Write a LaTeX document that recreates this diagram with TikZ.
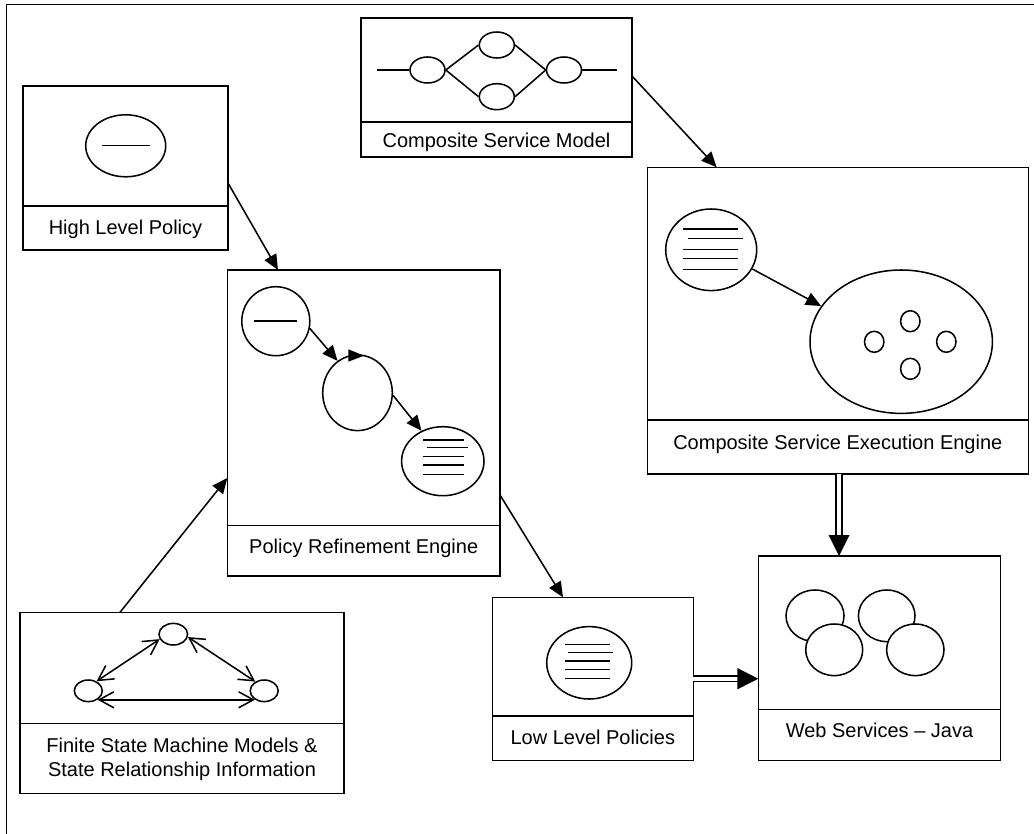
\documentclass[tikz,border=0pt]{standalone}
\usepackage{fontspec}
\setmainfont{Liberation Sans}
\usetikzlibrary{arrows.meta,shapes.geometric,fit}
\begin{document}
\begin{tikzpicture}[x=0.75pt,y=-0.75pt,line width=1.15pt,
  box/.style={draw,inner sep=0pt,outer sep=0pt},
  lab/.style={anchor=base,inner sep=0pt,align=center,font=\fontsize{15}{17.5}\selectfont},
  ell/.style 2 args={ellipse,draw,inner sep=0pt,minimum width=#1*1.5pt,minimum height=#2*1.5pt},
  arr/.style={-{Triangle[length=11.5pt,width=10pt]}},
  barb/.style={{Straight Barb[length=11pt,width=12pt]}-{Straight Barb[length=11pt,width=12pt]}},
  dbl/.style={double,double distance=3pt,shorten >=15pt}]
\useasboundingbox (0,0) rectangle (1034,834);
% outer frame
\draw[line width=1.4pt] (6.5,850) -- (6.5,4.5) -- (1050,4.5);

% ---------- Composite Service Model ----------
\node[box,fit={(361,18) (632,157)}] (csm) {};
\draw (csm.west |- 0,122) -- (csm.east |- 0,122);
\node[lab] (csmL) at (496.5,147.5) {Composite Service Model};
\node[ell={17.5}{13}] (cl) at (427.5,70) {};
\node[ell={17.5}{13}] (ct) at (496.8,45) {};
\node[ell={17.5}{13}] (cb) at (496.8,96.7) {};
\node[ell={17.5}{13}] (cr) at (564,70) {};
\coordinate (cin) at (377,70);
\coordinate (cout) at (616.7,70);
\draw (cin) -- (cl.west);
\draw (cl.east) -- (ct.west);
\draw (cl.east) -- (cb.west);
\draw (ct.east) -- (cr.west);
\draw (cb.east) -- (cr.west);
\draw (cr.east) -- (cout);

% ---------- High Level Policy ----------
\node[box,fit={(23,86) (228,250)}] (hlp) {};
\draw (hlp.west |- 0,206) -- (hlp.east |- 0,206);
\node[lab] (hlpL) at (125.5,234) {High Level Policy};
\node[ell={40}{31}] (h1) at (125.7,145.8) {};
\draw (101.7,145.7) -- (150,145.7);

% ---------- Policy Refinement Engine ----------
\node[box,fit={(227.3,270) (500,576)}] (pre) {};
\draw (pre.west |- 0,525.7) -- (pre.east |- 0,525.7);
\node[lab] (preL) at (363.7,553.6) {Policy Refinement Engine};
\node[ell={34}{34.5}] (p1) at (275.8,321.2) {};
\draw (254.3,321) -- (296.7,321);
\node[ell={34.8}{37.8}] (p2) at (357.5,392.8) {};
\node[ell={41.2}{34.5}] (p3) at (442.8,461.2) {};
\foreach \yy/\xa/\xb in {440/423.3/464.3,447.7/426.7/467.7,456.7/423.3/464.3,465/423.3/464.3,474.3/423.3/464.3}
  \draw (\xa,\yy) -- (\xb,\yy);
\draw[arr] (p1.-12) -- (p2.122);
\fill (348.3,349.3) -- (348.3,361.7) -- (364,355.7) -- cycle;
\draw[arr] (p2.-4) -- (p3.125);

% ---------- Composite Service Execution Engine ----------
\node[box,fit={(647.3,167.3) (1028.3,474)}] (csee) {};
\draw (csee.west |- 0,420) -- (csee.east |- 0,420);
\node[lab] (cseeL) at (837.8,449) {Composite Service Execution Engine};
\node[ell={45.5}{40.8}] (s1) at (711.2,249.8) {};
\foreach \yy/\xa/\xb in {229/683.3/738.3,238.3/687.7/742.7,249.3/683.3/738.3,258.3/683.3/738.3,269.3/683.3/738.3}
  \draw (\xa,\yy) -- (\xb,\yy);
\node[ell={91.2}{71.7}] (s2) at (901.2,341.7) {};
\node[ell={9.7}{10.5}] (sa) at (910.3,321.2) {};
\node[ell={9.7}{10.5}] (sb) at (874.2,341.8) {};
\node[ell={9.7}{10.5}] (sc) at (946.3,341.8) {};
\node[ell={9.7}{10.5}] (sd) at (910.3,368.8) {};
\draw[arr] (s1.-25) -- (s2.156);

% ---------- Finite State Machine ----------
\node[box,fit={(20,612.3) (344,793.3)}] (fsm) {};
\draw (fsm.west |- 0,723.3) -- (fsm.east |- 0,723.3);
\node[lab] (fsmL) at (182,776) {Finite State Machine Models \&\\State Relationship Information};
\node[ell={14.3}{10.8}] (ft) at (173.3,634.2) {};
\node[ell={14}{10.8}] (fl) at (88.3,690.8) {};
\node[ell={14}{10.8}] (fr) at (264.2,690.8) {};
\draw[barb] (fl.49) -- (ft.200);
\draw[barb] (ft.-11) -- (fr.134);
\draw[barb] (fl.-44) -- (fr.-136);

% ---------- Low Level Policies ----------
\node[box,fit={(492.3,597.3) (693.3,760.7)}] (llp) {};
\draw (llp.west |- 0,716) -- (llp.east |- 0,716);
\node[lab] (llpL) at (592.8,744.3) {Low Level Policies};
\node[ell={42.5}{36.2}] (l1) at (589.2,662.8) {};
\foreach \yy/\xa/\xb in {644.3/565/610,652.3/568.3/613.3,661/565/610,669.3/565/610,678.7/565/610}
  \draw (\xa,\yy) -- (\xb,\yy);

% ---------- Web Services ----------
\node[box,fit={(758.3,556) (1000.7,760.7)}] (ws) {};
\draw (ws.west |- 0,709.3) -- (ws.east |- 0,709.3);
\node[lab] (wsL) at (879.5,737.6) {Web Services – Java};
\node[ell={29}{25.8}] (w1) at (815,615.8) {};
\node[ell={28.3}{25.8}] (w2) at (886.7,615.8) {};
\node[ell={28.5}{25.8},fill=white] (w3) at (834.2,649.8) {};
\node[ell={28.7}{25.8},fill=white] (w4) at (915.3,649.8) {};

% ---------- connectors ----------
\draw[arr] (hlp.east |- 0,183) -- (pre.north -| 278,0);
\draw[arr] (fsm.north -| 120,0) -- (pre.west |- 0,478);
\draw[arr] (pre.east |- 0,495) -- (llp.north -| 563,0);
\draw[arr] (csm.east |- 0,76) -- (csee.north -| 716.7,0);
\draw[dbl] (csee.south -| 839,0) -- (ws.north -| 839,0);
\fill (ws.north -| 839,0) -- ++(-10.5,-21) -- ++(21,0) -- cycle;
\draw[dbl] (llp.east |- 0,678.7) -- (ws.west |- 0,678.7);
\fill (ws.west |- 0,678.7) -- ++(-21,-10.7) -- ++(0,21.4) -- cycle;
\end{tikzpicture}
\end{document}
